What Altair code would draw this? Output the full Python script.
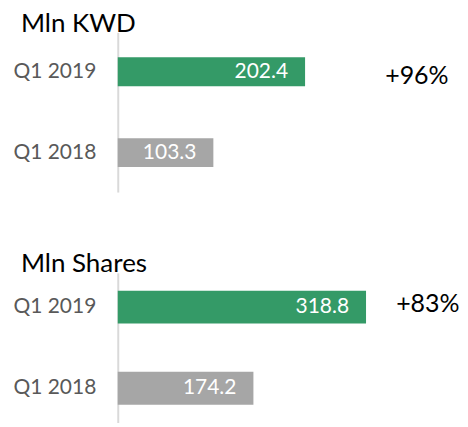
import altair as alt
import pandas as pd

periods = ["Q1 2019", "Q1 2018"]
kwd_values = [202.4, 103.3]
share_values = [318.8, 174.2]
panel_titles = ["Mln KWD", "Mln Shares"]
growth_labels = ["+96%", "+83%"]
bar_colors = ["#349A67", "#A6A6A6"]

FONT = "Lato"


def panel(title, values, growth, xmax, pin, pout, height, growth_x, growth_dy,
          title_offset):
    df = pd.DataFrame({"period": periods, "value": values})
    y = alt.Y(
        "period:N",
        sort=periods,
        title=None,
        scale=alt.Scale(paddingInner=pin, paddingOuter=pout),
        axis=alt.Axis(
            ticks=False,
            labelPadding=22,
            labelFontSize=21,
            labelFont=FONT,
            labelColor="#595959",
            domainColor="#D9D9D9",
            domainWidth=2,
            grid=False,
        ),
    )
    x = alt.X("value:Q", scale=alt.Scale(domain=[0, xmax], nice=False, zero=True), axis=None)
    base = alt.Chart(df).encode(y=y)
    bars = base.mark_bar().encode(
        x=x,
        color=alt.Color(
            "period:N",
            scale=alt.Scale(domain=periods, range=bar_colors),
            legend=None,
        ),
    )
    labels = base.mark_text(
        align="right", dx=-17, color="white", font=FONT, fontSize=21
    ).encode(x=x, text=alt.Text("value:Q", format=".1f"))
    gdf = pd.DataFrame({"period": [periods[0]], "growth": [growth]})
    ann = alt.Chart(gdf).mark_text(
        align="left", font=FONT, fontSize=25, color="black", dy=growth_dy
    ).encode(
        x=alt.value(growth_x),
        y=alt.Y("period:N", sort=periods),
        text="growth:N",
    )
    return alt.layer(bars, labels, ann).properties(
        width=320,
        height=height,
        title=alt.TitleParams(
            title,
            anchor="start",
            font=FONT,
            fontSize=26,
            fontWeight="normal",
            color="black",
            dx=8,
            offset=title_offset,
        ),
    )


top = panel(panel_titles[0], kwd_values, growth_labels[0], 345, 0.642, 0.309, 160,
            268, 4, -5)
bottom = panel(panel_titles[1], share_values, growth_labels[1], 410, 0.595, 0.22, 150,
               279, -3, -4)

chart = alt.vconcat(top, bottom, spacing=59).configure(
    padding={"top": 3, "left": 4, "right": 0, "bottom": 0},
    view=alt.ViewConfig(stroke=None),
)

chart.save("out.html", embed_options={"renderer": "svg", "actions": False})
